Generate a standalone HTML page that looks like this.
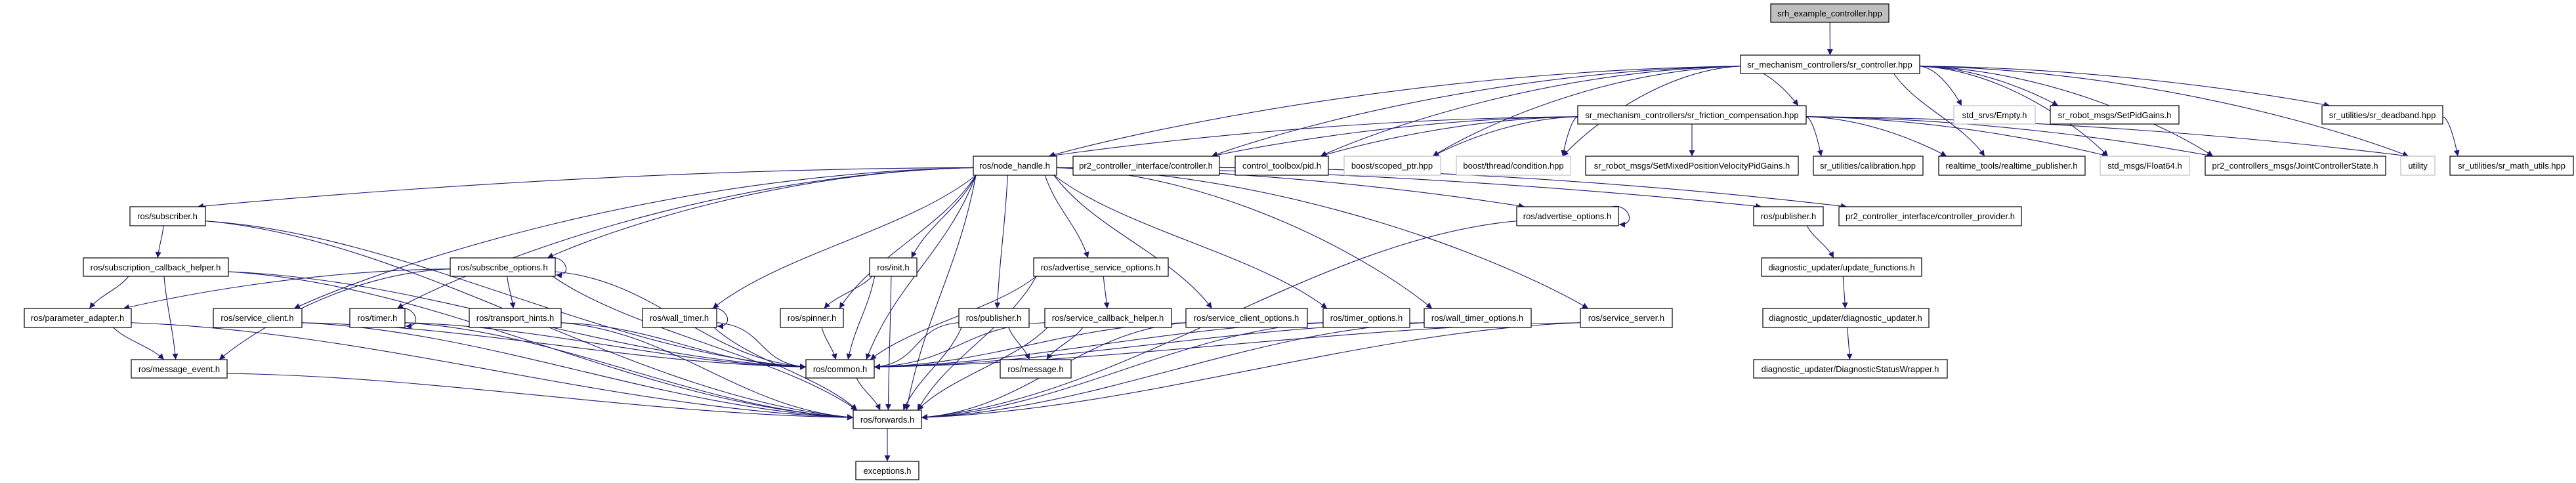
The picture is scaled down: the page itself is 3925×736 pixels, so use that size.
<!DOCTYPE html>
<html><head><meta charset="utf-8"><style>
html,body{margin:0;padding:0;background:#fff;}
svg{display:block;}
text{font-family:"Liberation Sans",Arial,sans-serif;font-size:13px;fill:#000;}
.n rect{fill:#fff;stroke:#000;stroke-width:1.2;}
.g rect{fill:#fff;stroke:#bfbfbf;stroke-width:1.2;}
.e{fill:none;stroke:#191970;stroke-width:1.1;}
</style></head><body>
<svg id="s" width="3925" height="736" viewBox="0 0 3925 736" xmlns="http://www.w3.org/2000/svg">
<defs><marker id="a" viewBox="0 0 10 10" refX="10" refY="5" markerWidth="9" markerHeight="9" orient="auto" markerUnits="userSpaceOnUse"><path d="M0,0 L10,5 L0,10 z" fill="#191970"/></marker></defs>
<g id="edges"></g>
<g id="nodes">
<g class="n" id="srh"><rect x="2698" y="6" width="180" height="28" style="fill:#bfbfbf"/><text x="2788" y="25" text-anchor="middle">srh_example_controller.hpp</text></g>
<g class="n" id="src"><rect x="2652" y="84" width="273" height="28"/><text x="2788" y="103" text-anchor="middle">sr_mechanism_controllers/sr_controller.hpp</text></g>
<g class="n" id="fric"><rect x="2404" y="161" width="348" height="28"/><text x="2578" y="180" text-anchor="middle">sr_mechanism_controllers/sr_friction_compensation.hpp</text></g>
<g class="g" id="empty"><rect x="2977" y="161" width="124" height="28"/><text x="3039" y="180" text-anchor="middle">std_srvs/Empty.h</text></g>
<g class="n" id="setpid"><rect x="3124" y="161" width="196" height="28"/><text x="3222" y="180" text-anchor="middle">sr_robot_msgs/SetPidGains.h</text></g>
<g class="n" id="dead"><rect x="3538" y="161" width="184" height="28"/><text x="3630" y="180" text-anchor="middle">sr_utilities/sr_deadband.hpp</text></g>
<g class="n" id="nh"><rect x="1483" y="238" width="127" height="29"/><text x="1546" y="257" text-anchor="middle">ros/node_handle.h</text></g>
<g class="n" id="ctrl"><rect x="1635" y="238" width="223" height="29"/><text x="1746" y="257" text-anchor="middle">pr2_controller_interface/controller.h</text></g>
<g class="n" id="pid"><rect x="1882" y="238" width="142" height="29"/><text x="1953" y="257" text-anchor="middle">control_toolbox/pid.h</text></g>
<g class="g" id="scoped"><rect x="2048" y="238" width="147" height="29"/><text x="2121" y="257" text-anchor="middle">boost/scoped_ptr.hpp</text></g>
<g class="g" id="cond"><rect x="2219" y="238" width="174" height="29"/><text x="2306" y="257" text-anchor="middle">boost/thread/condition.hpp</text></g>
<g class="n" id="mixed"><rect x="2416" y="238" width="324" height="29"/><text x="2578" y="257" text-anchor="middle">sr_robot_msgs/SetMixedPositionVelocityPidGains.h</text></g>
<g class="n" id="calib"><rect x="2763" y="238" width="167" height="29"/><text x="2846" y="257" text-anchor="middle">sr_utilities/calibration.hpp</text></g>
<g class="n" id="rtp"><rect x="2954" y="238" width="223" height="29"/><text x="3065" y="257" text-anchor="middle">realtime_tools/realtime_publisher.h</text></g>
<g class="g" id="f64"><rect x="3200" y="238" width="136" height="29"/><text x="3268" y="257" text-anchor="middle">std_msgs/Float64.h</text></g>
<g class="n" id="jcs"><rect x="3360" y="238" width="275" height="29"/><text x="3497" y="257" text-anchor="middle">pr2_controllers_msgs/JointControllerState.h</text></g>
<g class="g" id="util"><rect x="3658" y="238" width="52" height="29"/><text x="3684" y="257" text-anchor="middle">utility</text></g>
<g class="n" id="math"><rect x="3733" y="238" width="188" height="29"/><text x="3827" y="257" text-anchor="middle">sr_utilities/sr_math_utils.hpp</text></g>
<g class="n" id="sub"><rect x="198" y="315" width="115" height="29"/><text x="255" y="334" text-anchor="middle">ros/subscriber.h</text></g>
<g class="n" id="advo"><rect x="2311" y="315" width="155" height="29"/><text x="2388" y="334" text-anchor="middle">ros/advertise_options.h</text></g>
<g class="n" id="pub2"><rect x="2672" y="315" width="106" height="29"/><text x="2725" y="334" text-anchor="middle">ros/publisher.h</text></g>
<g class="n" id="prov"><rect x="2802" y="315" width="278" height="29"/><text x="2941" y="334" text-anchor="middle">pr2_controller_interface/controller_provider.h</text></g>
<g class="n" id="sch"><rect x="127" y="393" width="221" height="28"/><text x="237" y="412" text-anchor="middle">ros/subscription_callback_helper.h</text></g>
<g class="n" id="subo"><rect x="686" y="393" width="160" height="28"/><text x="766" y="412" text-anchor="middle">ros/subscribe_options.h</text></g>
<g class="n" id="init"><rect x="1325" y="393" width="72" height="28"/><text x="1361" y="412" text-anchor="middle">ros/init.h</text></g>
<g class="n" id="aso"><rect x="1575" y="393" width="205" height="28"/><text x="1677" y="412" text-anchor="middle">ros/advertise_service_options.h</text></g>
<g class="n" id="upd"><rect x="2684" y="393" width="244" height="28"/><text x="2806" y="412" text-anchor="middle">diagnostic_updater/update_functions.h</text></g>
<g class="n" id="pa"><rect x="37" y="470" width="163" height="29"/><text x="118" y="489" text-anchor="middle">ros/parameter_adapter.h</text></g>
<g class="n" id="sc"><rect x="325" y="470" width="135" height="29"/><text x="392" y="489" text-anchor="middle">ros/service_client.h</text></g>
<g class="n" id="timer"><rect x="533" y="470" width="84" height="29"/><text x="575" y="489" text-anchor="middle">ros/timer.h</text></g>
<g class="n" id="th"><rect x="715" y="470" width="140" height="29"/><text x="785" y="489" text-anchor="middle">ros/transport_hints.h</text></g>
<g class="n" id="wt"><rect x="979" y="470" width="113" height="29"/><text x="1035" y="489" text-anchor="middle">ros/wall_timer.h</text></g>
<g class="n" id="spin"><rect x="1189" y="470" width="96" height="29"/><text x="1237" y="489" text-anchor="middle">ros/spinner.h</text></g>
<g class="n" id="pub"><rect x="1461" y="470" width="107" height="29"/><text x="1514" y="489" text-anchor="middle">ros/publisher.h</text></g>
<g class="n" id="scbh"><rect x="1592" y="470" width="193" height="29"/><text x="1688" y="489" text-anchor="middle">ros/service_callback_helper.h</text></g>
<g class="n" id="sco"><rect x="1807" y="470" width="185" height="29"/><text x="1899" y="489" text-anchor="middle">ros/service_client_options.h</text></g>
<g class="n" id="to"><rect x="2016" y="470" width="132" height="29"/><text x="2082" y="489" text-anchor="middle">ros/timer_options.h</text></g>
<g class="n" id="wto"><rect x="2170" y="470" width="163" height="29"/><text x="2251" y="489" text-anchor="middle">ros/wall_timer_options.h</text></g>
<g class="n" id="ss"><rect x="2408" y="470" width="140" height="29"/><text x="2478" y="489" text-anchor="middle">ros/service_server.h</text></g>
<g class="n" id="du"><rect x="2686" y="470" width="253" height="29"/><text x="2812" y="489" text-anchor="middle">diagnostic_updater/diagnostic_updater.h</text></g>
<g class="n" id="me"><rect x="200" y="548" width="146" height="28"/><text x="273" y="567" text-anchor="middle">ros/message_event.h</text></g>
<g class="n" id="com"><rect x="1228" y="548" width="104" height="28"/><text x="1280" y="567" text-anchor="middle">ros/common.h</text></g>
<g class="n" id="msg"><rect x="1524" y="548" width="108" height="28"/><text x="1578" y="567" text-anchor="middle">ros/message.h</text></g>
<g class="n" id="dsw"><rect x="2672" y="548" width="295" height="28"/><text x="2819" y="567" text-anchor="middle">diagnostic_updater/DiagnosticStatusWrapper.h</text></g>
<g class="n" id="fw"><rect x="1300" y="625" width="104" height="28"/><text x="1352" y="644" text-anchor="middle">ros/forwards.h</text></g>
<g class="n" id="exc"><rect x="1304" y="703" width="96" height="28"/><text x="1352" y="722" text-anchor="middle">exceptions.h</text></g>
</g>
</svg>
<script>
(function(){
var E=[
["srh","src"],
["src","fric"],["src","nh"],["src","ctrl"],["src","pid"],["src","scoped"],["src","cond"],["src","empty"],["src","setpid"],["src","dead"],["src","rtp"],["src","f64"],["src","jcs"],["src","util"],
["fric","nh"],["fric","ctrl"],["fric","pid"],["fric","scoped"],["fric","cond"],["fric","mixed"],["fric","calib"],["fric","rtp"],["fric","f64"],["fric","jcs"],["fric","util"],
["dead","math"],
["nh","sub"],["nh","subo"],["nh","timer"],["nh","wt"],["nh","sc"],["nh","init"],["nh","spin"],["nh","pub"],["nh","aso"],["nh","sco"],["nh","to"],["nh","wto"],["nh","ss"],["nh","advo"],["nh","pub2"],["nh","com"],["nh","fw"],
["ctrl","prov"],
["sub","sch"],["sub","com"],["sub","fw"],
["sch","pa"],["sch","me"],["sch","fw"],["sch","com"],
["subo","pa"],["subo","me"],["subo","th"],["subo","com"],["subo","fw"],
["pa","me"],["pa","fw"],
["sc","com"],["sc","fw"],
["timer","com"],["timer","fw"],
["th","com"],["th","fw"],
["me","fw"],
["wt","com"],["wt","fw"],
["init","spin"],["init","com"],["init","fw"],
["spin","com"],
["aso","scbh"],["aso","com"],["aso","fw"],
["pub","com"],["pub","msg"],["pub","fw"],
["scbh","com"],["scbh","msg"],["scbh","fw"],
["sco","com"],["sco","fw"],
["to","com"],["to","fw"],
["wto","com"],["wto","fw"],
["ss","com"],["ss","fw"],
["advo","fw"],
["com","fw"],["fw","exc"],
["pub2","upd"],["upd","du"],["du","dsw"]
];
var loops=["subo","timer","wt","advo"];
function bb(id){var r=document.querySelector("#"+id+" rect");return {x:+r.getAttribute("x"),y:+r.getAttribute("y"),w:+r.getAttribute("width"),h:+r.getAttribute("height")};}
var g=document.getElementById("edges"),h="";
E.forEach(function(e){
 var a=bb(e[0]),b=bb(e[1]);
 var acx=a.x+a.w/2,bcx=b.x+b.w/2,sx,sy,tx,ty,c1x,c1y,c2x,c2y;
 var dy=b.y-(a.y+a.h),dx=bcx-acx;
 var side=(e[1]=="fw"||e[1]=="com");
 if(Math.abs(dx)>3.2*dy && side){
   sx=(dx>0)?a.x+a.w:a.x; sy=a.y+a.h*0.75;
   tx=(dx>0)?b.x:b.x+b.w; ty=b.y+b.h*0.4;
   c1x=sx+dx*0.3;c1y=sy+dy*0.1;c2x=tx-dx*0.3;c2y=ty-dy*0.1;
 } else if(Math.abs(dx)>3.2*dy){
   sx=(dx>0)?a.x+a.w:a.x; sy=a.y+a.h*0.6;
   tx=(dx>0)?b.x+12:b.x+b.w-12; ty=b.y;
   c1x=sx+(tx-sx)*0.45;c1y=sy+dy*0.05;c2x=tx-(tx-sx)*0.15;c2y=ty-dy*0.35;
 } else {
   var off=Math.max(-a.w/2+4,Math.min(a.w/2-4,dx*0.35));
   sx=acx+off;sy=a.y+a.h;
   var toff=Math.max(-b.w/2+6,Math.min(b.w/2-6,-dx*0.15));
   tx=bcx+toff;ty=b.y;
   c1x=sx+(tx-sx)*0.25;c1y=sy+dy*0.4;c2x=tx-(tx-sx)*0.25;c2y=ty-dy*0.4;
 }
 h+='<path class="e" marker-end="url(#a)" d="M'+sx+','+sy+' C'+c1x+','+c1y+' '+c2x+','+c2y+' '+tx+','+ty+'"/>';
});
loops.forEach(function(id){var a=bb(id);var x=a.x+a.w,y=a.y;
 h+='<path class="e" marker-end="url(#a)" d="M'+(x-10)+','+y+' C'+(x+14)+','+(y-6)+' '+(x+30)+','+(y+28)+' '+(x+1)+','+(y+a.h-2)+'"/>';});
g.innerHTML=h;
})();
</script>
</body></html>
